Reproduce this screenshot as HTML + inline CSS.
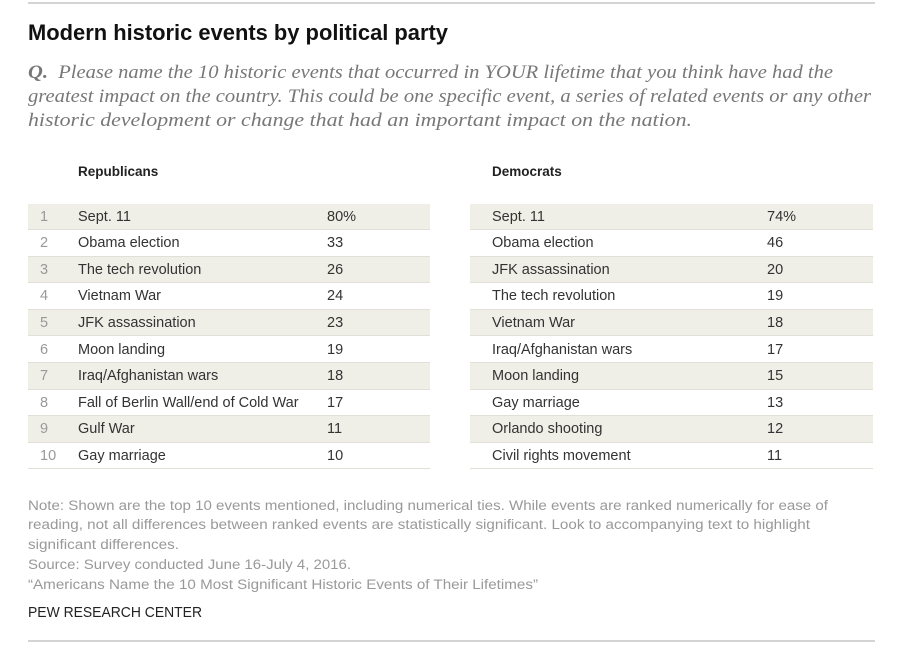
<!DOCTYPE html>
<html><head><meta charset="utf-8">
<style>
body{margin:0;width:909px;height:649px;background:#fff;position:relative;overflow:hidden;font-family:"Liberation Sans",sans-serif;}
.a{position:absolute;white-space:nowrap;transform-origin:0 50%;}
.rule{position:absolute;left:28px;width:847px;height:2px;background:#d4d4d4;}
.title{left:28px;top:20px;font-size:22px;font-weight:bold;color:#111;}
.q{left:28px;font-family:"Liberation Serif",serif;font-style:italic;font-size:19px;color:#777;}
.hdr{top:164px;font-size:13.5px;font-weight:bold;color:#222;}
.row{position:absolute;height:26.6px;box-sizing:border-box;border-bottom:1px solid #e0e0d8;}
.row.s{background:#efefe7;}
.cell{position:absolute;top:0;line-height:26px;font-size:14.5px;color:#333;white-space:nowrap;}
.num{color:#999;}
.note{left:28px;font-size:13.5px;color:#999;}
</style></head><body>
<div class="rule" style="top:2px"></div>
<div class="a title" data-w="420">Modern historic events by political party</div>
<div class="a q" style="top:62px" data-w="805"><b>Q.</b>&nbsp; Please name the 10 historic events that occurred in YOUR lifetime that you think have had the</div>
<div class="a q" style="top:86px" data-w="843">greatest impact on the country. This could be one specific event, a series of related events or any other</div>
<div class="a q" style="top:110px" data-w="664">historic development or change that had an important impact on the nation.</div>
<div class="a hdr" style="left:78px">Republicans</div>
<div class="a hdr" style="left:492px">Democrats</div>
<div id="tables"></div>
<div class="a note" style="top:498px" data-w="800">Note: Shown are the top 10 events mentioned, including numerical ties. While events are ranked numerically for ease of</div>
<div class="a note" style="top:517px" data-w="782">reading, not all differences between ranked events are statistically significant. Look to accompanying text to highlight</div>
<div class="a note" style="top:537px" data-w="151">significant differences.</div>
<div class="a note" style="top:557px" data-w="323">Source: Survey conducted June 16-July 4, 2016.</div>
<div class="a note" style="top:577px" data-w="510">“Americans Name the 10 Most Significant Historic Events of Their Lifetimes”</div>
<div class="a" style="left:28px;top:605px;font-size:14.5px;color:#222" data-w="174">PEW RESEARCH CENTER</div>
<div class="rule" style="top:640px"></div>
<script>
const repEvents=["Sept. 11","Obama election","The tech revolution","Vietnam War","JFK assassination","Moon landing","Iraq/Afghanistan wars","Fall of Berlin Wall/end of Cold War","Gulf War","Gay marriage"];
const repValues=[80,33,26,24,23,19,18,17,11,10];
const demEvents=["Sept. 11","Obama election","JFK assassination","The tech revolution","Vietnam War","Iraq/Afghanistan wars","Moon landing","Gay marriage","Orlando shooting","Civil rights movement"];
const demValues=[74,46,20,19,18,17,15,13,12,11];
const host=document.getElementById('tables');
function build(events,values,left,width,showRank,name){
  events.forEach((ev,i)=>{
    const r=document.createElement('div');
    r.className='row'+(i%2===0?' s':'');
    r.style.left=left+'px';r.style.width=width+'px';r.style.top=(203.5+i*26.6)+'px';
    
    
    if(showRank){
      const n=document.createElement('div');n.className='cell num';n.style.left='12px';n.textContent=i+1;
      
      
      r.appendChild(n);
    }
    const l=document.createElement('div');l.className='cell';l.style.left=(showRank?50:22)+'px';l.textContent=ev;
    
    
    r.appendChild(l);
    const v=document.createElement('div');v.className='cell';v.style.left=(showRank?299:297)+'px';v.textContent=values[i]+(i===0?'%':'');
    
    
    r.appendChild(v);
    host.appendChild(r);
  });
}
build(repEvents,repValues,28,402,true,'republican');
build(demEvents,demValues,470,403,false,'democrat');
document.querySelectorAll('[data-w]').forEach(e=>{
  const w=e.getBoundingClientRect().width;const t=+e.getAttribute('data-w');
  if(w>0)e.style.transform='scaleX('+(t/w)+')';
});
</script>
</body></html>
